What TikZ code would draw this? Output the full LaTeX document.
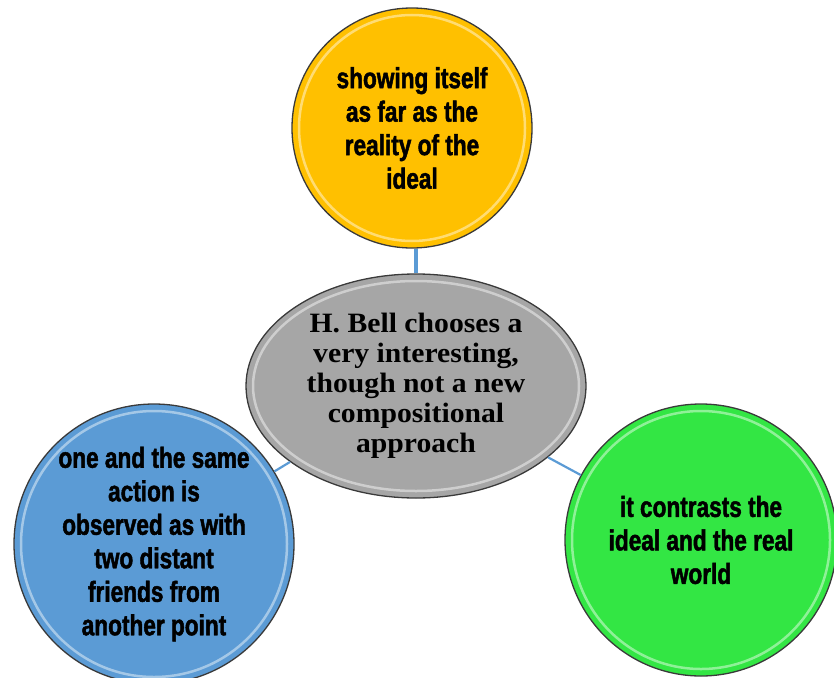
\documentclass[tikz,border=0pt]{standalone}
\usepackage{fontspec}
\setmainfont{Liberation Serif}
\newfontfamily\condfont{Liberation Sans}[FakeStretch=0.78, BoldFeatures={FakeBold=1.6}]
\newfontfamily\serifb{Liberation Serif}[FakeStretch=1.06]
\usetikzlibrary{shapes.geometric}
\definecolor{cyel}{HTML}{FFC000}
\definecolor{cgray}{HTML}{A6A6A6}
\definecolor{cblue}{HTML}{5B9BD5}
\definecolor{cgreen}{HTML}{33E644}
\definecolor{cline}{HTML}{5B9BD5}
\definecolor{cedge}{HTML}{3A3A3A}
\begin{document}
\begin{tikzpicture}[x=1pt,y=-1pt,
  bubble/.style={circle, draw=cedge, line width=1.3pt, inner sep=0pt, align=center,
    font=\condfont\bfseries\fontsize{29}{33.5}\selectfont},
  hub/.style={ellipse, draw=cedge, line width=1.3pt, inner sep=0pt, align=center,
    fill=cgray, minimum width=340pt, minimum height=224pt,
    font=\serifb\bfseries\fontsize{28}{30}\selectfont},
  link/.style={draw=cline, line width=3.2pt},
  gloss/.style={draw=white, opacity=0.45, line width=2.5pt}]
\useasboundingbox (0,0) rectangle (834,677);
\node[hub] (hubn) at (416,386) {H. Bell chooses a\\very interesting,\\though not a new\\compositional\\approach};
\node[bubble, fill=cyel, minimum size=240pt] (top) at (412,128) {showing itself\\as far as the\\reality of the\\ideal};
\node[bubble, fill=cblue, minimum size=280pt] (left) at (154,544) {one and the same\\action is\\observed as with\\two distant\\friends from\\another point};
\node[bubble, fill=cgreen, minimum size=272pt] (right) at (701,540) {it contrasts the\\ideal and the real\\world};
\draw[gloss] (top.center) circle (113);
\draw[gloss] (left.center) circle (133);
\draw[gloss] (right.center) circle (129);
\draw[gloss] (hubn.center) ellipse (163 and 105);
\draw[link] (hubn.north) -- (hubn.north |- top.south);
\draw[link, line width=2.2pt] (hubn) -- (left);
\draw[link, line width=2.2pt] (hubn) -- (right);
\end{tikzpicture}
\end{document}
